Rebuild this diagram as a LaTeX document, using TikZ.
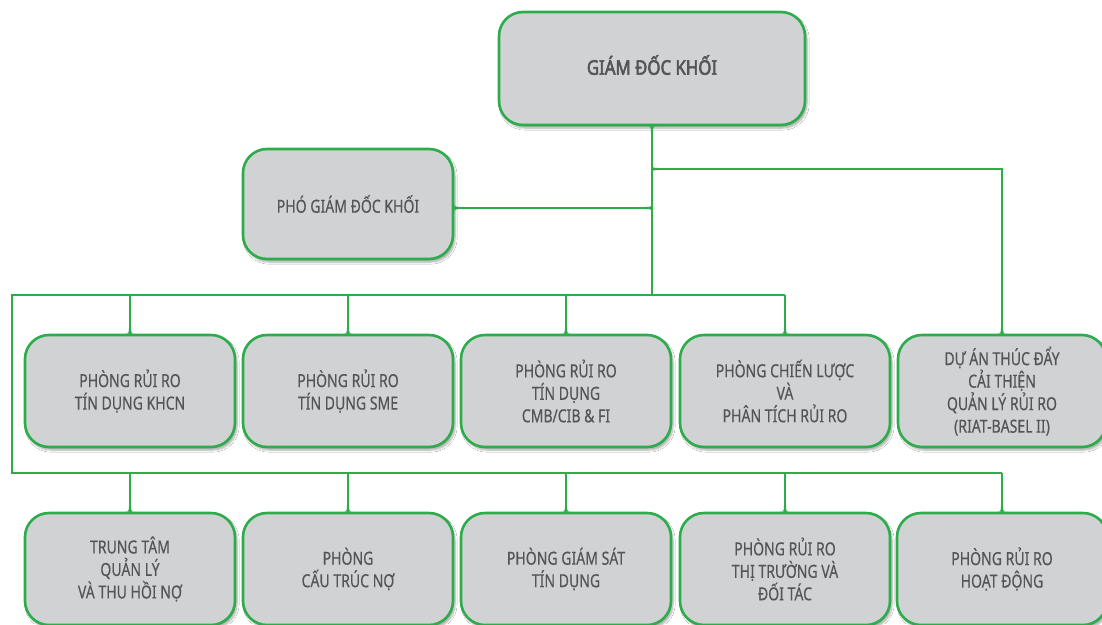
\documentclass[tikz,border=0pt]{standalone}
\usepackage{fontspec}
\setmainfont[FakeStretch=0.78, FakeBold=0.4]{Noto Sans}
\newfontfamily\boldfnt[FakeStretch=0.84, FakeBold=2.8]{Noto Sans}
\usetikzlibrary{shadows.blur}
\definecolor{lk}{RGB}{44,172,75}
\definecolor{boxfill}{RGB}{209,210,212}
\definecolor{txt}{RGB}{84,85,87}
\tikzset{
  orgbox/.style={draw=lk, line width=2.6pt, fill=boxfill, rounded corners=24pt,
    minimum width=210pt, minimum height=112pt, inner sep=0pt, align=center,
    text=txt, font=\fontsize{18}{22.5}\selectfont,
    blur shadow={shadow xshift=2pt, shadow yshift=-3pt, shadow blur steps=6, shadow opacity=35}},
  link/.style={draw=lk, line width=2.3pt},
  flare/.pic={\fill[lk] (-5,0) .. controls (-1.2,0) and (-1.1,-1) .. (-1.1,-6) -- (1.1,-6) .. controls (1.1,-1) and (1.2,0) .. (5,0) -- cycle;}
}
\begin{document}
\begin{tikzpicture}[x=1pt,y=-1pt]
\useasboundingbox[fill=white] (0,0) rectangle (1102,624);
% nodes
\node[orgbox, minimum width=306pt, minimum height=113pt] (top) at (652,68.5) {};
\node[text=txt, font=\boldfnt\fontsize{20}{22}\selectfont, inner sep=0pt] (toptxt) at (652,65) {GIÁM ĐỐC KHỐI};
\node[orgbox, minimum height=110pt] (pho) at (348,204) {PHÓ GIÁM ĐỐC KHỐI};
\node[orgbox] (r11) at (130,391) {PHÒNG RỦI RO\\TÍN DỤNG KHCN};
\node[orgbox] (r12) at (348,391) {PHÒNG RỦI RO\\TÍN DỤNG SME};
\node[orgbox] (r13) at (566,391) {PHÒNG RỦI RO\\TÍN DỤNG\\CMB/CIB \& FI};
\node[orgbox] (r14) at (785,391) {PHÒNG CHIẾN LƯỢC\\VÀ\\PHÂN TÍCH RỦI RO};
\node[orgbox, minimum width=208pt] (r15) at (1002,391) {DỰ ÁN THÚC ĐẨY\\CẢI THIỆN\\QUẢN LÝ RỦI RO\\(RIAT-BASEL II)};
\node[orgbox] (r21) at (130,569) {TRUNG TÂM\\QUẢN LÝ\\VÀ THU HỒI NỢ};
\node[orgbox] (r22) at (348,569) {PHÒNG\\CẤU TRÚC NỢ};
\node[orgbox] (r23) at (566,569) {PHÒNG GIÁM SÁT\\TÍN DỤNG};
\node[orgbox] (r24) at (785,569) {PHÒNG RỦI RO\\THỊ TRƯỜNG VÀ\\ĐỐI TÁC};
\node[orgbox] (r25) at (1002,569) {PHÒNG RỦI RO\\HOẠT ĐỘNG};
% junction coordinates
\coordinate (jr) at (652,169);
\coordinate (tb) at (652,295);
\coordinate (lt) at (12,295);
\coordinate (lb) at (12,473);
% connectors
\draw[link] (top.south) -- (tb);
\draw[link] (top.south |- jr) -| (r15.north);
\draw[link] (pho.east |- 0,208) -- (top.south |- 0,208);
\draw[link] (r14.north |- tb) -- (lt) -- (lb) -- (r25.north |- lb);
\foreach \n in {r11,r12,r13,r14}{\draw[link] (\n.north |- tb) -- (\n.north);}
\foreach \n in {r21,r22,r23,r24,r25}{\draw[link] (\n.north |- lb) -- (\n.north);}
% flares
\foreach \n in {r11,r12,r13,r14,r15,r21,r22,r23,r24,r25}{\path (\n.north) pic{flare};}
\path (top.south) pic[rotate=180]{flare};
\path (pho.east |- 0,208) pic[rotate=-90]{flare};
\path (jr) pic[rotate=-90]{flare};
\path (top.south |- 0,208) pic[rotate=90]{flare};
\end{tikzpicture}
\end{document}
